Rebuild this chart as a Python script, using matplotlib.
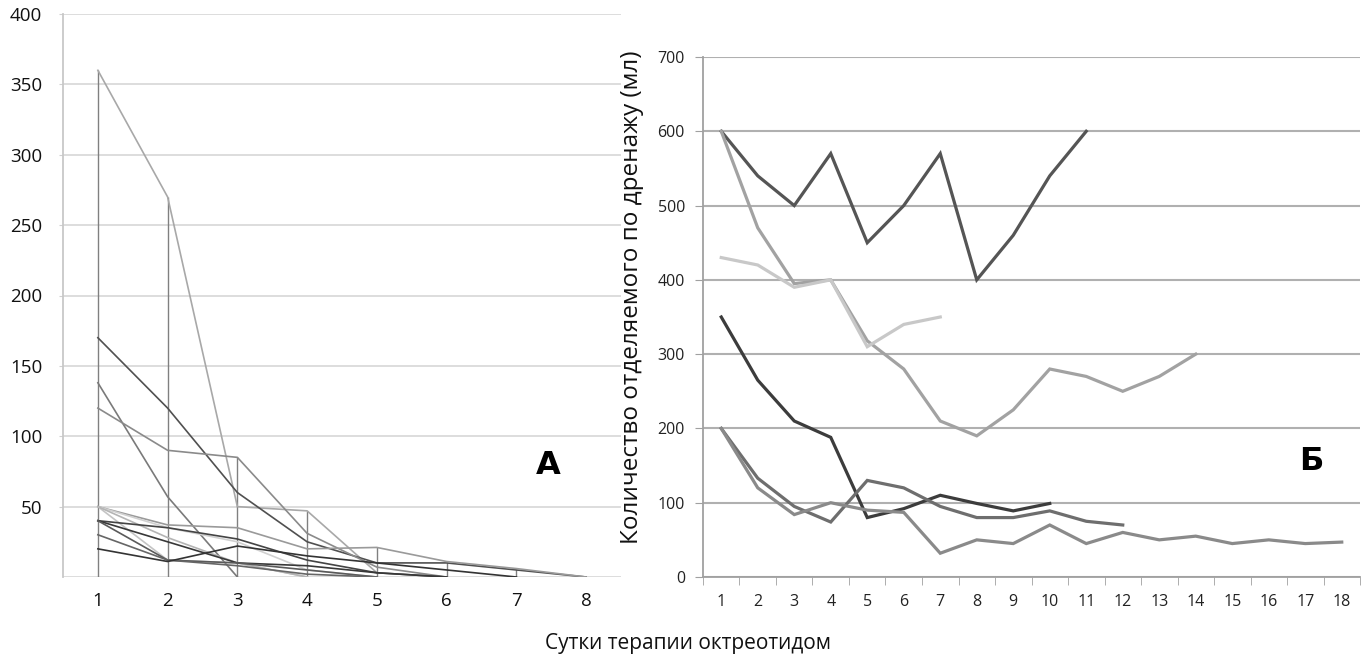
import matplotlib
matplotlib.use("Agg")
import matplotlib.pyplot as plt
import numpy as np

plt.rcParams['font.family'] = ['Open Sans', 'DejaVu Sans']

# ---------------- Panel A data (days 1..n) ----------------
a_days = [1, 2, 3, 4, 5, 6, 7, 8]
a_series = [
    [360, 270, 50, 47, 3],
    [170, 120, 60, 25, 10, 10, 5, 0],
    [138, 57, 0],
    [120, 90, 85, 31, 7, 0],
    [50, 37, 35, 20, 21, 11, 6, 0],
    [50, 35, 25, 5, 0],
    [50, 12, 10, 0],
    [50, 28, 10, 0],
    [40, 35, 27, 12, 3, 0],
    [40, 25, 10, 8, 3, 0],
    [40, 12, 10, 5, 0],
    [30, 12, 8, 2, 0],
    [20, 11, 22, 15, 10, 5, 0],
]
a_colors = ['#a8a8a8', '#505050', '#7a7a7a', '#8a8a8a', '#9a9a9a', '#d0d0d0',
            '#c4c4c4', '#b4b4b4', '#444444', '#383838', '#5a5a5a', '#666666', '#333333']
a_yticks = [50, 100, 150, 200, 250, 300, 350, 400]

# ---------------- Panel Б data ----------------
b_days = list(range(1, 19))
b_series = [
    [600, 540, 500, 570, 450, 500, 570, 400, 460, 540, 600],
    [600, 470, 395, 400, 318, 280, 210, 190, 225, 280, 270, 250, 270, 300],
    [430, 420, 390, 400, 310, 340, 350],
    [350, 265, 210, 188, 80, 92, 110, 99, 89, 99],
    [200, 133, 95, 74, 130, 120, 95, 80, 80, 89, 75, 70],
    [200, 120, 84, 100, 90, 87, 32, 50, 45, 70, 45, 60, 50, 55, 45, 50, 45, 47],
]
b_colors = ['#555555', '#a2a2a2', '#c8c8c8', '#3c3c3c', '#6e6e6e', '#8a8a8a']
b_yticks = [0, 100, 200, 300, 400, 500, 600, 700]

fig = plt.figure(figsize=(13.68, 6.57), dpi=100)

# ---------------- Panel A ----------------
axA = fig.add_axes([63/1368, 1-577/657, (621-63)/1368, (577-14)/657])
axA.set_xlim(0.5, 8.5)
axA.set_ylim(0, 400)
# drop lines: from 0 to maximum at each day
maxima = {}
for s in a_series:
    for d, v in zip(a_days, s):
        maxima[d] = max(maxima.get(d, 0), v)
for d, m in maxima.items():
    if m > 0:
        axA.vlines(d, 0, m, color='#808080', lw=1.0, zorder=2)
for s, c in zip(a_series, a_colors):
    axA.plot(a_days[:len(s)], s, color=c, lw=1.2, zorder=3)
axA.set_yticks(a_yticks)
axA.set_xticks(a_days)
axA.grid(axis='y', color='#dadada', lw=1.3)
axA.set_axisbelow(True)
for sp in ['top', 'right', 'bottom']:
    axA.spines[sp].set_visible(False)
axA.spines['left'].set_color('#c8c8c8')
axA.spines['left'].set_linewidth(1.3)
axA.tick_params(axis='y', length=3, color='#d0d0d0', pad=12, labelsize=13.5, labelcolor='#111111')
axA.tick_params(axis='x', length=0, pad=11, labelsize=13.5, labelcolor='#111111')
axA.axhline(0, color='#dadada', lw=1.3, zorder=1)
fig.text(548/1368, 1-465/657, 'А', fontsize=23, fontweight='bold',
         ha='center', va='center', family=['DejaVu Sans'])

# ---------------- Panel Б ----------------
axB = fig.add_axes([703/1368, 1-577/657, (1360-703)/1368, (577-57)/657])
axB.set_xlim(0.5, 18.5)
axB.set_ylim(0, 700)
for s, c in zip(b_series, b_colors):
    axB.plot(b_days[:len(s)], s, color=c, lw=2.3, zorder=3, solid_joinstyle='miter')
axB.set_yticks(b_yticks)
axB.set_xticks(b_days)
axB.set_xticks(np.arange(0.5, 19, 1.0), minor=True)
axB.grid(axis='y', color='#b0b0b0', lw=1.5)
axB.set_axisbelow(True)
for sp in ['top', 'right']:
    axB.spines[sp].set_visible(False)
for sp in ['left', 'bottom']:
    axB.spines[sp].set_color('#a0a0a0')
    axB.spines[sp].set_linewidth(1.3)
axB.tick_params(axis='y', length=6, color='#a0a0a0', pad=7, labelsize=11.5, labelcolor='#222222')
axB.tick_params(axis='x', which='major', length=0, pad=12, labelsize=11.5, labelcolor='#222222')
axB.tick_params(axis='x', which='minor', length=6, color='#a0a0a0')
fig.text(1311/1368, 1-462/657, 'Б', fontsize=23, fontweight='bold',
         ha='center', va='center', family=['DejaVu Sans'])

fig.text(632/1368, 1-297/657, 'Количество отделяемого по дренажу (мл)', rotation=90,
         ha='center', va='center', fontsize=17.5, color='#111111')
fig.text(688/1368, 1-643/657, 'Сутки терапии октреотидом',
         ha='center', va='center', fontsize=15, color='#111111')

fig.savefig('out.png', dpi=100)
